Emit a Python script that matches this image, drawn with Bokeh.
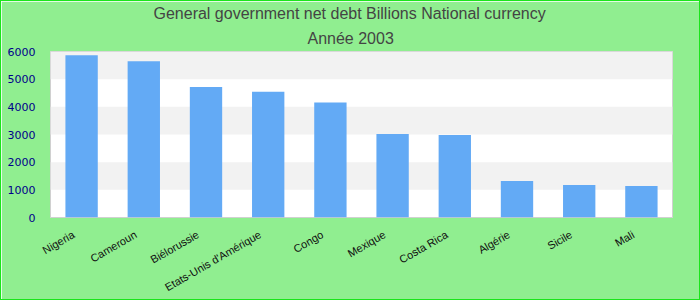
import math
from bokeh.plotting import figure
from bokeh.models import (ColumnDataSource, Range1d, FixedTicker, Title, LinearAxis)
from bokeh.embed import file_html
from bokeh.resources import INLINE

countries = ["Nigeria", "Cameroun", "Biélorussie", "Etats-Unis d'Amérique", "Congo",
             "Mexique", "Costa Rica", "Algérie", "Sicile", "Mali"]
debt = [5860, 5645, 4720, 4545, 4155, 3020, 2985, 1315, 1175, 1140]
y_ticks = [0, 1000, 2000, 3000, 4000, 5000, 6000]

title_main = "General government net debt Billions National currency"
title_sub = "Année 2003"

n = len(countries)
pos = [i + 0.5 for i in range(n)]
src = ColumnDataSource(data=dict(x=pos, country=countries, debt=debt))

p = figure(width=700, height=300, output_backend="svg", toolbar_location=None,
           x_range=Range1d(0, n), y_range=Range1d(0, 6000),
           min_border_left=49, min_border_right=29, min_border_bottom=79, min_border_top=50)
p.title = None
p.add_layout(Title(text=title_sub, align="left", offset=257, text_font="Liberation Sans",
                   text_font_size="16px", text_font_style="normal", text_color="#444444",
                   standoff=9), "above")
p.add_layout(Title(text=title_main, align="left", offset=103, text_font="Liberation Sans",
                   text_font_size="16px", text_font_style="normal", text_color="#444444",
                   standoff=3), "above")

p.vbar(x="x", top="debt", width=0.52, source=src, color="#63aaf5", line_color=None)

p.background_fill_color = "white"
p.border_fill_color = "#90ee90"
p.outline_line_color = "#d0d0d0"
p.outline_line_width = 1
p.styles = {"border": "1px solid #1be51b", "box-sizing": "border-box"}

p.xgrid.grid_line_color = None
p.ygrid.grid_line_color = None
p.ygrid.band_fill_color = "#f2f2f2"
p.ygrid.band_fill_alpha = 1.0
p.ygrid.ticker = FixedTicker(ticks=y_ticks)

p.yaxis.ticker = FixedTicker(ticks=y_ticks)
p.yaxis.axis_line_color = None
p.yaxis.major_tick_line_color = None
p.yaxis.minor_tick_line_color = None
p.yaxis.major_label_text_color = "#00008b"
p.yaxis.major_label_text_font = "DejaVu Sans"
p.yaxis.major_label_text_font_size = "11px"
p.yaxis.major_label_standoff = 9

# category labels on an axis whose range is shifted slightly, so labels sit left of bars
p.xaxis.visible = False
shift = 0.13
p.extra_x_ranges = {"lab": Range1d(shift, n + shift)}
lab_axis = LinearAxis(x_range_name="lab", ticker=FixedTicker(ticks=pos),
                      major_label_overrides={t: c for t, c in zip(pos, countries)})
lab_axis.axis_line_color = None
lab_axis.major_tick_line_color = None
lab_axis.minor_tick_line_color = None
lab_axis.major_label_orientation = math.pi / 6
lab_axis.major_label_text_font = "Liberation Sans"
lab_axis.major_label_text_font_size = "11px"
lab_axis.major_label_text_color = "#111111"
lab_axis.major_label_standoff = 10
p.add_layout(lab_axis, "below")

open("out.html", "w").write(file_html(p, INLINE))
